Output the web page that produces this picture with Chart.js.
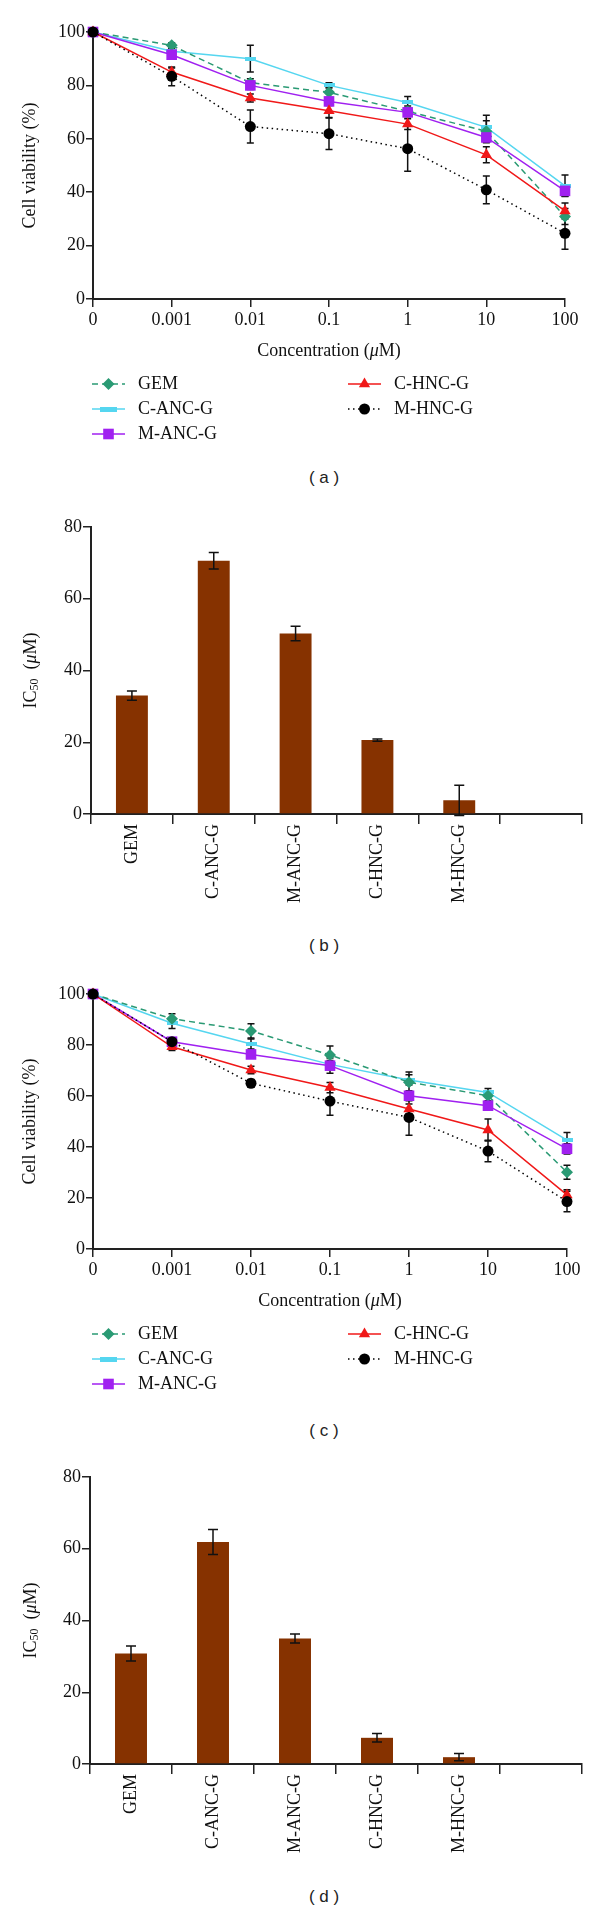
<!DOCTYPE html>
<html>
<head>
<meta charset="utf-8">
<script src="https://cdn.jsdelivr.net/npm/chart.js@4.4.0/dist/chart.umd.min.js"></script>
<style>
  html, body { margin: 0; padding: 0; background: #fff; }
  #page { position: relative; width: 600px; height: 1913px; overflow: hidden; }
  canvas { position: absolute; left: 0; }
  .tag { position: absolute; left: 224px; width: 200px; text-align: center; font-family: "Liberation Sans", Arial, sans-serif; font-size: 17px; line-height: 20px; color: #222; }
</style>
</head>
<body>
<div id="page">
  <canvas id="viabilityA" width="600" height="460" style="top:0px"></canvas>
  <div class="tag" style="top:468px">( a )</div>
  <canvas id="ic50B" width="600" height="470" style="top:460px"></canvas>
  <div class="tag" style="top:936px">( b )</div>
  <canvas id="viabilityC" width="600" height="460" style="top:960px"></canvas>
  <div class="tag" style="top:1421px">( c )</div>
  <canvas id="ic50D" width="600" height="440" style="top:1440px"></canvas>
  <div class="tag" style="top:1887px">( d )</div>
</div>
<script>
// values
const concLabels = ['0', '0.001', '0.01', '0.1', '1', '10', '100'];
const seriesNames = ['GEM', 'C-ANC-G', 'M-ANC-G', 'C-HNC-G', 'M-HNC-G'];

// panel (a)
const gemA = [100, 95, 81, 77.4, 70.3, 62.8, 30.9];
const gemErrA = [0.5, 1, 1.5, 2, 2, 4, 3];
const canA = [100, 92.8, 90, 80, 73.6, 64.3, 42.4];
const canErrA = [0.5, 1, 5, 1, 2.2, 4.5, 4];
const manA = [100, 91.5, 80, 74, 69.9, 60.5, 40.5];
const manErrA = [0.5, 1, 1.5, 1.5, 1.5, 2, 2];
const chnA = [100, 85, 75.3, 70.5, 65.5, 54, 33];
const chnErrA = [0.5, 1.5, 1.5, 2.5, 2, 3, 3];
const mhnA = [100, 83.4, 64.6, 61.9, 56.3, 40.9, 24.6];
const mhnErrA = [0.5, 3.5, 6.2, 5.9, 8.5, 5.2, 6];

// panel (c)
const gemC = [100, 90.3, 85.5, 76.1, 65.4, 60.1, 30.1];
const gemErrC = [0.5, 2, 2.8, 3.5, 4, 2, 2.7];
const canC = [100, 88.5, 80.4, 72.4, 66.3, 61.4, 42.7];
const canErrC = [0.5, 2, 2, 1.5, 2, 1.5, 3];
const manC = [100, 81.3, 76.3, 71.9, 60.1, 56.2, 39.3];
const manErrC = [0.5, 1.5, 1.5, 3, 2, 1.5, 2];
const chnC = [100, 79.3, 70.2, 63.3, 54.9, 46.7, 21.2];
const chnErrC = [0.5, 1.5, 1.5, 2, 2, 4.3, 2];
const mhnC = [100, 81.3, 65, 58, 51.6, 38.4, 18.6];
const mhnErrC = [0.5, 1.5, 1.5, 5.5, 7, 4.2, 4];

// panels (b) and (d): IC50 bars, last slot is empty
const barLabels = ['GEM', 'C-ANC-G', 'M-ANC-G', 'C-HNC-G', 'M-HNC-G', ''];
const ic50B = [33.0, 70.6, 50.3, 20.6, 3.8, null];
const ic50ErrB = [1.3, 2.3, 2.0, 0.3, 4.2, null];
const ic50D = [30.8, 61.9, 35.0, 7.3, 1.9, null];
const ic50ErrD = [2.1, 3.5, 1.25, 1.2, 1.0, null];

const viabilityTicks = [0, 20, 40, 60, 80, 100];
const ic50Ticks = [0, 20, 40, 60, 80];

// ---- styling ----
const SERIF = '"Liberation Serif", "Times New Roman", serif';
const INK = '#111';
const AXIS = '#222';
const BAR_COLOR = '#863200';

Chart.defaults.font.family = SERIF;
Chart.defaults.font.size = 18;
Chart.defaults.color = INK;

function flatMarker(w, h, color) {
  const c = document.createElement('canvas');
  c.width = w; c.height = h;
  const g = c.getContext('2d');
  g.fillStyle = color;
  g.fillRect(0, 0, w, h);
  return c;
}

const seriesStyle = [
  { color: '#2a9a74', dash: [6, 4], point: 'rectRot', radius: 6, order: 3 },
  { color: '#55d6f0', dash: [], point: flatMarker(11, 4, '#55d6f0'), legendPoint: flatMarker(17, 5, '#55d6f0'), radius: 4, order: 4 },
  { color: '#a020f0', dash: [], point: 'rect', radius: 7.5, order: 2 },
  { color: '#f01818', dash: [], point: 'triangle', radius: 6.5, order: 1 },
  { color: '#000000', dash: [1.5, 3.5], point: 'circle', radius: 5.5, order: 0 }
];

// ---- plugins ----
const errorBars = {
  id: 'errorBars',
  draw(chart, opts) {
    const ctx = chart.ctx;
    chart.data.datasets.forEach((ds, i) => {
      if (!ds.errors) return;
      const meta = chart.getDatasetMeta(i);
      const yScale = chart.scales[meta.yAxisID];
      ctx.save();
      ctx.strokeStyle = opts.color || '#111';
      ctx.lineWidth = opts.width || 1.5;
      meta.data.forEach((el, j) => {
        const v = ds.data[j], e = ds.errors[j];
        if (v == null || !e) return;
        const top = yScale.getPixelForValue(v + e);
        const bot = yScale.getPixelForValue(v - e);
        const cap = opts.cap || 4;
        ctx.beginPath();
        ctx.moveTo(el.x, top); ctx.lineTo(el.x, bot);
        ctx.moveTo(el.x - cap, top); ctx.lineTo(el.x + cap, top);
        ctx.moveTo(el.x - cap, bot); ctx.lineTo(el.x + cap, bot);
        ctx.stroke();
      });
      ctx.restore();
    });
  },
  beforeDatasetsDraw(chart, args, opts) { if (opts.behind) this.draw(chart, opts); },
  afterDatasetsDraw(chart, args, opts) { if (!opts.behind) this.draw(chart, opts); }
};

// two column legend, column by column like the original
const legendGrid = {
  id: 'legendGrid',
  afterDraw(chart, args, opts) {
    if (!opts.cells) return;
    const { ctx, chartArea } = chart;
    opts.cells.forEach((cell, i) => {
      const ds = chart.data.datasets[i];
      const y = chartArea.bottom + cell.dy;
      ctx.save();
      ctx.strokeStyle = ds.borderColor;
      ctx.lineWidth = ds.borderWidth;
      ctx.setLineDash(ds.borderDash || []);
      ctx.beginPath();
      ctx.moveTo(cell.x, y);
      ctx.lineTo(cell.x + 33, y);
      ctx.stroke();
      ctx.setLineDash([]);
      ctx.fillStyle = ds.backgroundColor;
      Chart.helpers.drawPoint(ctx, {
        pointStyle: ds.legendPoint || ds.pointStyle,
        radius: ds.pointRadius, rotation: 0, borderWidth: 0
      }, cell.x + 16.5, y);
      ctx.fillStyle = INK;
      ctx.font = '18px ' + SERIF;
      ctx.textAlign = 'left';
      ctx.textBaseline = 'middle';
      ctx.fillText(ds.label, cell.x + 46, y);
      ctx.restore();
    });
  }
};

// axis titles with italic mu and subscripts
const richTitles = {
  id: 'richTitles',
  afterDraw(chart, args, opts) {
    if (!opts.items) return;
    const { ctx, chartArea } = chart;
    const fontFor = p => (p.italic ? 'italic ' : '') + (p.sub ? 12 : 18) + 'px ' + SERIF;
    opts.items.forEach(item => {
      ctx.save();
      const vertical = item.axis === 'y';
      const cx = vertical ? item.x : (chartArea.left + chartArea.right) / 2;
      const cy = vertical ? (chartArea.top + chartArea.bottom) / 2 : chartArea.bottom + item.dy;
      ctx.translate(cx, cy);
      if (vertical) ctx.rotate(-Math.PI / 2);
      let total = 0;
      item.parts.forEach(p => { ctx.font = fontFor(p); total += ctx.measureText(p.text).width; });
      let x = -total / 2;
      ctx.fillStyle = INK;
      ctx.textAlign = 'left';
      ctx.textBaseline = 'middle';
      item.parts.forEach(p => {
        ctx.font = fontFor(p);
        ctx.fillText(p.text, x, p.sub ? 4 : 0);
        x += ctx.measureText(p.text).width;
      });
      ctx.restore();
    });
  }
};

Chart.register(errorBars, legendGrid, richTitles);

const concTitle = [{ text: 'Concentration (' }, { text: 'μ', italic: true }, { text: 'M)' }];
const viabilityTitle = [{ text: 'Cell viability (%)' }];
const ic50Title = [{ text: 'IC' }, { text: '50', sub: true }, { text: '  (' }, { text: 'μ', italic: true }, { text: 'M)' }];

function axisGrid(len) {
  return { display: true, drawOnChartArea: false, drawTicks: true, tickLength: len, color: AXIS, lineWidth: 1.5 };
}

function lineSet(i, values, errors) {
  const s = seriesStyle[i];
  return {
    label: seriesNames[i],
    data: values,
    errors: errors,
    borderColor: s.color,
    backgroundColor: s.color,
    borderWidth: 1.5,
    borderDash: s.dash,
    pointStyle: s.point,
    legendPoint: s.legendPoint,
    pointRadius: s.radius,
    pointHoverRadius: s.radius,
    pointBorderWidth: 0,
    order: s.order,
    tension: 0,
    clip: false
  };
}

function viabilityChart(id, sets, pad) {
  return new Chart(document.getElementById(id), {
    type: 'line',
    data: { labels: concLabels, datasets: sets },
    options: {
      responsive: false,
      animation: false,
      devicePixelRatio: 1,
      layout: { padding: { left: 0, right: pad.right, top: pad.top, bottom: 0 } },
      scales: {
        x: {
          type: 'category',
          offset: false,
          grid: Object.assign(axisGrid(8), { offset: false }),
          border: { display: true, color: AXIS, width: 2 },
          ticks: { padding: 2, maxRotation: 0, autoSkip: false },
          afterFit: s => { s.height = pad.xHeight; }
        },
        y: {
          min: 0, max: 100,
          afterBuildTicks: s => { s.ticks = viabilityTicks.map(v => ({ value: v })); },
          grid: axisGrid(7),
          border: { display: true, color: AXIS, width: 2 },
          ticks: { padding: 1 },
          afterFit: s => { s.width = pad.left; }
        }
      },
      plugins: {
        legend: { display: false },
        tooltip: { enabled: false },
        errorBars: { behind: true, cap: 3.5, width: 1.5, color: '#111' },
        legendGrid: {
          cells: [
            { x: 92, dy: 85 }, { x: 92, dy: 110 }, { x: 92, dy: 135 },
            { x: 348, dy: 85 }, { x: 348, dy: 110 }
          ]
        },
        richTitles: {
          items: [
            { axis: 'x', dy: 52, parts: concTitle },
            { axis: 'y', x: 30, parts: viabilityTitle }
          ]
        }
      }
    }
  });
}

function ic50Chart(id, values, errors, pad) {
  return new Chart(document.getElementById(id), {
    type: 'bar',
    data: {
      labels: barLabels,
      datasets: [{
        data: values,
        errors: errors,
        backgroundColor: BAR_COLOR,
        barPercentage: 0.39,
        categoryPercentage: 1
      }]
    },
    options: {
      responsive: false,
      animation: false,
      devicePixelRatio: 1,
      layout: { padding: { left: 0, right: pad.right, top: pad.top, bottom: 0 } },
      scales: {
        x: {
          grid: Object.assign(axisGrid(10), { offset: true }),
          border: { display: true, color: AXIS, width: 2 },
          ticks: { minRotation: 90, maxRotation: 90, padding: 0, autoSkip: false },
          afterFit: s => { s.height = pad.xHeight; }
        },
        y: {
          min: 0, max: 80,
          afterBuildTicks: s => { s.ticks = ic50Ticks.map(v => ({ value: v })); },
          grid: axisGrid(8),
          border: { display: true, color: AXIS, width: 2 },
          ticks: { padding: 1 },
          afterFit: s => { s.width = pad.left; }
        }
      },
      plugins: {
        legend: { display: false },
        tooltip: { enabled: false },
        errorBars: { behind: false, cap: 5, width: 1.5, color: '#111' },
        richTitles: { items: [{ axis: 'y', x: 31, parts: ic50Title }] }
      }
    }
  });
}

viabilityChart('viabilityA', [
  lineSet(0, gemA, gemErrA), lineSet(1, canA, canErrA), lineSet(2, manA, manErrA),
  lineSet(3, chnA, chnErrA), lineSet(4, mhnA, mhnErrA)
], { left: 93, right: 35, top: 32, xHeight: 161 });

ic50Chart('ic50B', ic50B, ic50ErrB, { left: 91, right: 18, top: 67, xHeight: 116 });

viabilityChart('viabilityC', [
  lineSet(0, gemC, gemErrC), lineSet(1, canC, canErrC), lineSet(2, manC, manErrC),
  lineSet(3, chnC, chnErrC), lineSet(4, mhnC, mhnErrC)
], { left: 93, right: 33, top: 34, xHeight: 171 });

ic50Chart('ic50D', ic50D, ic50ErrD, { left: 90, right: 18, top: 37, xHeight: 116 });
</script>
</body>
</html>
